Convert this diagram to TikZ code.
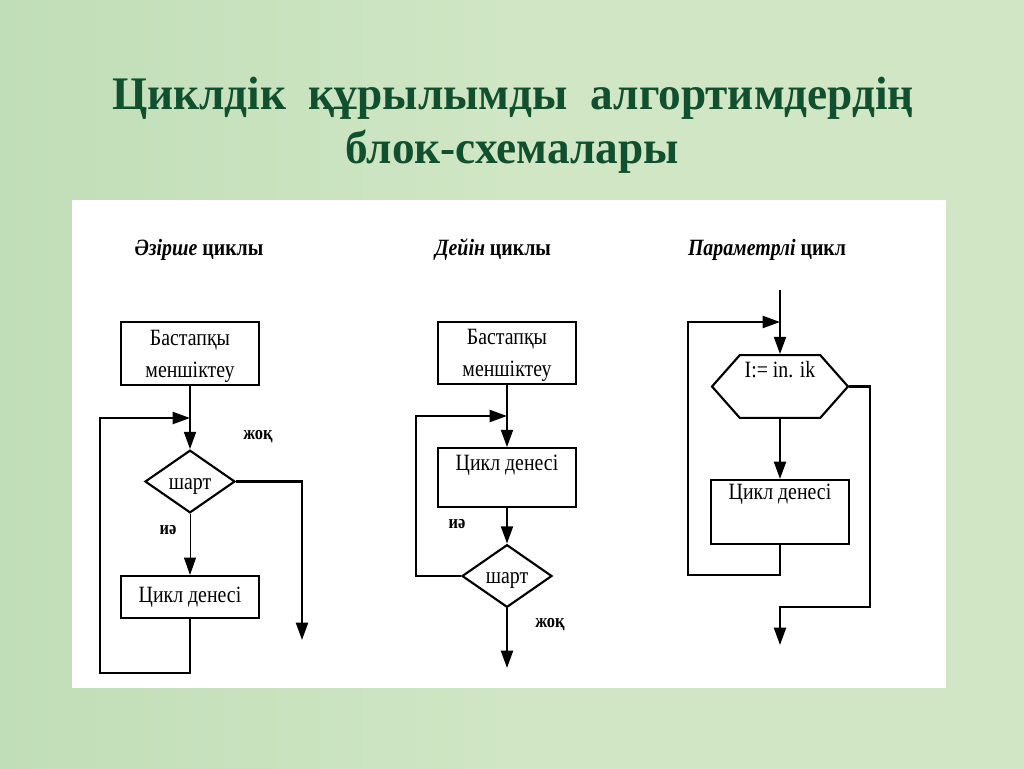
\documentclass[tikz,border=0pt]{standalone}
\usepackage{fontspec}
\setmainfont{Liberation Serif}
\newfontfamily\boxf[FakeStretch=0.85]{Liberation Serif}
\newfontfamily\titlef[FakeStretch=0.97]{Liberation Serif}
\usetikzlibrary{arrows.meta,shapes.geometric,shapes.symbols}
\definecolor{bg}{RGB}{192,222,184}
\definecolor{bgl}{RGB}{208,230,196}
\definecolor{ttl}{RGB}{16,80,46}
\tikzset{
  line/.style={line width=1.6pt, draw=black},
  tip/.style={-{Triangle[length=13pt,width=9pt]}},
  arr/.style={line, tip},
  box/.style={draw, line width=1.6pt, fill=white, rectangle, inner sep=0pt,
    minimum width=103pt, minimum height=47pt, align=center,
    font=\boxf\fontsize{17.5pt}{24pt}\selectfont},
  dia/.style={draw, line width=1.6pt, diamond, aspect=1.43, inner sep=0pt,
    minimum width=67.5pt, minimum height=47pt, text height=15pt,
    font=\boxf\fontsize{17.5pt}{24pt}\selectfont},
  hexa/.style={draw, line width=1.6pt, signal, signal to=west and east,
    signal pointer angle=97, inner sep=0pt,
    minimum width=102pt, minimum height=47pt,
    font=\boxf\fontsize{17.5pt}{24pt}\selectfont},
  lbl/.style={font=\boxf\bfseries\fontsize{14.5pt}{16pt}\selectfont, inner sep=0pt},
  head/.style={font=\boxf\bfseries\fontsize{17.5pt}{20pt}\selectfont, inner sep=0pt},
  ttext/.style={font=\titlef\bfseries\fontsize{35pt}{40pt}\selectfont, text=ttl, inner sep=0pt}
}
\begin{document}
\begin{tikzpicture}[x=0.75pt,y=-0.75pt]
\useasboundingbox (0,0) rectangle (1024,768);
\shade[left color=bg, right color=bgl, middle color=bgl] (0,0) rectangle (1024,768);
\fill[white] (72,200) rectangle (946,688);

% title
\node[ttext] (t1) at (513,98) {Циклдік\ \ құрылымды\ \ алгортимдердің};
\node[ttext] (t2) at (512,152) {блок-схемалары};

% ---- diagram 1
\node[head] (h1) at (199,250) {\textit{Әзірше} циклы};
\node[box, text depth=-6pt] (b1) at (190,353.5) {Бастапқы\\меншіктеу};
\node[dia] (d1) at (190,481.5) {шарт};
\node[box, minimum height=31.5pt] (c1) at (190,597) {Цикл денесі};
\coordinate (j1) at (190,418);
\coordinate (l1) at (100,418);
\coordinate (m1) at (100,673);
\coordinate (n1) at (190,673);
\coordinate (e1) at (302,640);
\draw[arr] (b1.south) -- (d1.north);
\draw[arr] (d1.east) -| (e1);
\draw[line width=0.6pt, tip] (d1.south) -- (c1.north);
\draw[arr] (c1.south) -- (n1) -- (m1) -- (l1) -- (j1);
\node[lbl] (no1) at (258,437) {жоқ};
\node[lbl] (ye1) at (168,530) {иә};

% ---- diagram 2
\node[head] (h2) at (493,250) {\textit{Дейін} циклы};
\node[box, text depth=-6pt] (b2) at (507,353) {Бастапқы\\меншіктеу};
\node[box, minimum height=44pt, text depth=22pt] (c2) at (507,477.5) {Цикл денесі};
\node[dia] (d2) at (507,576) {шарт};
\coordinate (j2) at (507,416);
\coordinate (l2) at (416,416);
\coordinate (m2) at (416,576);
\coordinate (e2) at (507,668);
\draw[arr] (b2.south) -- (c2.north);
\draw[arr] (c2.south) -- (d2.north);
\draw[arr] (d2.west) -- (m2) -- (l2) -- (j2);
\draw[arr] (d2.south) -- (e2);
\node[lbl] (ye2) at (457,524) {иә};
\node[lbl] (no2) at (550,625) {жоқ};

% ---- diagram 3
\node[head] (h3) at (767,250) {\textit{Параметрлі} цикл};
\coordinate (s3) at (780,290);
\node[hexa, text depth=26pt] (x3) at (780,386.5) {I:= in. ik};
\node[box, minimum height=48pt, text depth=30pt] (c3) at (780,512) {Цикл денесі};
\coordinate (j3) at (780,322);
\coordinate (l3) at (688,322);
\coordinate (m3) at (688,575);
\coordinate (n3) at (780,575);
\coordinate (r1) at (870,386.5);
\coordinate (r2) at (870,607);
\coordinate (r3) at (780,607);
\coordinate (e3) at (780,645);
\draw[arr] (s3) -- (x3.north);
\draw[arr] (x3.south) -- (c3.north);
\draw[arr] (c3.south) -- (n3) -- (m3) -- (l3) -- (j3);
\draw[arr] (x3.east) -- (r1) -- (r2) -- (r3) -- (e3);
\end{tikzpicture}
\end{document}
